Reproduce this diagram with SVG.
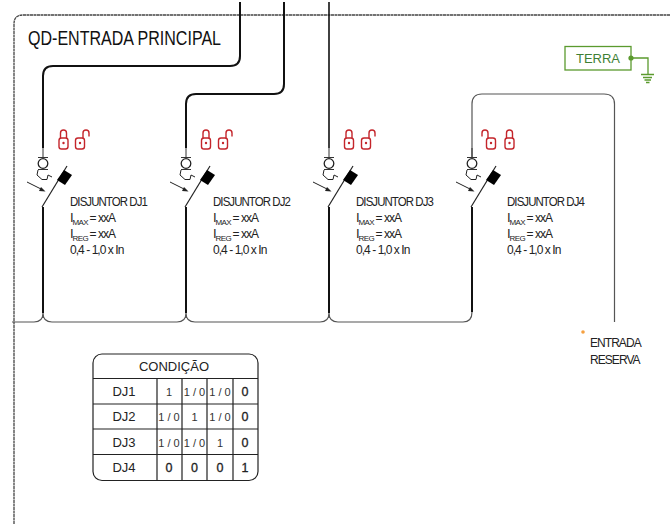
<svg xmlns="http://www.w3.org/2000/svg" width="670" height="524" viewBox="0 0 670 524">
<style>
text{font-family:"Liberation Sans",Arial,sans-serif;fill:#222}
.w{fill:none;stroke:#111;stroke-width:2}
.t{fill:none;stroke:#333;stroke-width:1}
.g{fill:none;stroke:#555;stroke-width:1.2}
.f{fill:none;stroke:#444;stroke-width:1.3;stroke-dasharray:3 .5}
.l{font-size:12px;letter-spacing:-.95px}
.s{font-size:8px;letter-spacing:-.6px}
.lk{fill:none;stroke:#c4252b;stroke-width:1.4}
.c{font-size:13px;text-anchor:middle}
.v{font-size:11px;text-anchor:middle;fill:#333}
.b{font-size:12.500px;text-anchor:middle;fill:#222;stroke:#222;stroke-width:.3}
.tb{fill:none;stroke:#222;stroke-width:1.200}
.gr{fill:none;stroke:#5b9a2e;stroke-width:1.300}
</style>
<defs>
<g id="closed"><rect x="-4.500" y="8" width="9" height="11" rx="2.500" class="lk"/><path d="M-3 8V3a3 3 0 0 1 6 0V8" class="lk"/><circle cy="13" r="1.200" fill="#c4252b"/></g>
<g id="open"><rect x="-4.500" y="8" width="9" height="11" rx="2.500" class="lk"/><path d="M3 8V3a3 3 0 0 1 6 0V6.500" class="lk"/><circle cy="13" r="1.200" fill="#c4252b"/></g>
<g id="openm"><rect x="-4.500" y="8" width="9" height="11" rx="2.500" class="lk"/><path d="M-3 8V3a3 3 0 0 0 -6 0V6.500" class="lk"/><circle cy="13" r="1.200" fill="#c4252b"/></g>
<g id="sw">
<path d="M0 148V158M-5 157.500H5M-5 169.500H5" class="t"/>
<circle cx="0" cy="163.500" r="4.800" fill="#fff" stroke="#222" stroke-width="1.300"/>
<path d="M-5 170L-6 175L-1 179.500H4L5 175L9 177" fill="none" stroke="#222" stroke-width="1"/>
<path d="M-16 182L0 190" stroke="#222" stroke-width="1"/><path d="M2.500 191.500L-4 191L-2 187Z" fill="#222"/>
<path d="M-1 207L24 166" fill="none" stroke="#222" stroke-width="1.200"/>
<path d="M14 180L21 170L29 175L22 185Z" fill="#000"/>
</g>
<g id="info">
<text class="l" x="0" y="16" style="font-size:13px">I</text><text class="s" x="2.500" y="19">MAX</text><text class="l" x="19.500" y="16">= xxA</text>
<text class="l" x="0" y="32" style="font-size:13px">I</text><text class="s" x="2.500" y="35">REG</text><text class="l" x="19.500" y="32">= xxA</text>
<text class="l" x="0" y="48">0,4 - 1,0 x In</text>
</g>
</defs>

<g id="frame"><path d="M14 524V24Q14 15 23 15H670" class="f"/></g>
<text id="title" x="28" y="45" font-size="20" textLength="193" lengthAdjust="spacingAndGlyphs" style="fill:#111">QD-ENTRADA PRINCIPAL</text>

<g id="connectors">
<path d="M240 2V56Q240 66 230 66H53Q43 66 43 76V148" class="w"/>
<path d="M284 2V84Q284 94 274 94H196Q186 94 186 104V148" class="w"/>
<path d="M329 2V148" class="w" style="stroke-width:1.600"/>
<path d="M472 158V104Q472 94 482 94H604Q614.500 94 614.500 104V322" class="g"/>
<path d="M43 207V313M186 207V313M329 207V313M472 207V312" class="w"/>
<path d="M12 322H34Q43 322 43 313Q43 322 52 322H177Q186 322 186 313Q186 322 195 322H320Q329 322 329 313Q329 322 338 322H463Q472 322 472 312" class="g"/>
</g>

<g id="dj1"><use href="#sw" x="43"/><use href="#closed" x="63.500" y="130"/><use href="#open" x="80" y="130"/><g transform="translate(70 206)"><text class="l" textLength="77" lengthAdjust="spacingAndGlyphs">DISJUNTOR DJ1</text><use href="#info"/></g></g>
<g id="dj2"><use href="#sw" x="186"/><use href="#closed" x="206" y="130"/><use href="#open" x="223" y="130"/><g transform="translate(213 206)"><text class="l" textLength="77" lengthAdjust="spacingAndGlyphs">DISJUNTOR DJ2</text><use href="#info"/></g></g>
<g id="dj3"><use href="#sw" x="329"/><use href="#closed" x="349" y="130"/><use href="#open" x="366" y="130"/><g transform="translate(356 206)"><text class="l" textLength="77" lengthAdjust="spacingAndGlyphs">DISJUNTOR DJ3</text><use href="#info"/></g></g>
<g id="dj4"><use href="#sw" x="472"/><use href="#openm" x="491" y="130"/><use href="#closed" x="509.500" y="130"/><g transform="translate(507 206)"><text class="l" textLength="77" lengthAdjust="spacingAndGlyphs">DISJUNTOR DJ4</text><use href="#info"/></g></g>

<g id="terra">
<rect x="565" y="46.500" width="66" height="23.500" fill="#fff" class="gr"/>
<text x="598" y="63" font-size="13" text-anchor="middle" style="fill:#3f7f35">TERRA</text>
<circle cx="631" cy="58" r="2.600" fill="#5b9a2e"/>
<path d="M631 58H648V74M641 74.500H654M643 77.500H652M644.500 80H651M646 82.500H649.500" class="gr"/>
</g>

<g id="reserva">
<circle cx="583" cy="332" r="1.800" fill="#f5a040"/>
<text class="l" x="590" y="347">ENTRADA</text>
<text class="l" x="590" y="364">RESERVA</text>
</g>

<g id="tabela">
<rect x="93" y="354" width="165" height="126.500" rx="9" class="tb" fill="#fff"/>
<path d="M93 378.500H258M93 404H258M93 429H258M93 454.500H258M157 378.500V480.500M182 378.500V480.500M207 378.500V480.500M233 378.500V480.500" class="tb"/>
<text class="c" x="174" y="371">CONDIÇÃO</text>
<text class="c" x="124" y="396">DJ1</text><text class="c" x="124" y="421">DJ2</text><text class="c" x="124" y="447">DJ3</text><text class="c" x="124" y="472">DJ4</text>
<text class="v" x="169" y="396">1</text><text class="v" x="194.500" y="396">1 / 0</text><text class="v" x="220" y="396">1 / 0</text><text class="b" x="245" y="396">0</text>
<text class="v" x="169" y="421">1 / 0</text><text class="v" x="194.500" y="421">1</text><text class="v" x="220" y="421">1 / 0</text><text class="b" x="245" y="421">0</text>
<text class="v" x="169" y="447">1 / 0</text><text class="v" x="194.500" y="447">1 / 0</text><text class="v" x="220" y="447">1</text><text class="b" x="245" y="447">0</text>
<text class="b" x="169" y="472">0</text><text class="b" x="194.500" y="472">0</text><text class="b" x="220" y="472">0</text><text class="b" x="245" y="472">1</text>
</g>
</svg>
